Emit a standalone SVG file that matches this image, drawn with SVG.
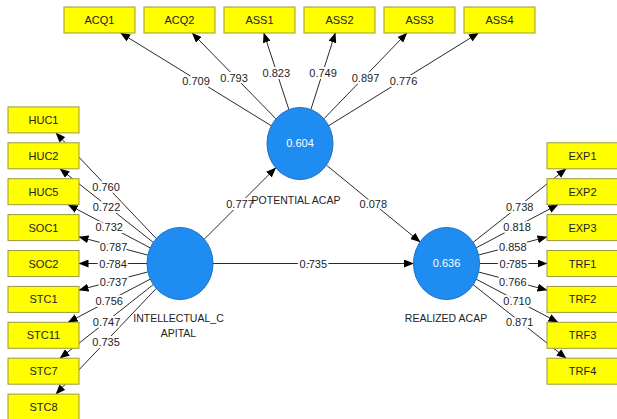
<svg xmlns="http://www.w3.org/2000/svg" width="617" height="419" viewBox="0 0 617 419">
<defs>
<marker id="ah" markerWidth="10" markerHeight="8" refX="9.5" refY="4" orient="auto" markerUnits="userSpaceOnUse"><path d="M0,0 L10,4 L0,8 z" fill="#000"/></marker>
<style>
.ln{stroke:#2a2a2a;stroke-width:1;fill:none;marker-end:url(#ah)}
.lb{font-family:"Liberation Sans",Arial,sans-serif;font-size:11px;fill:#222;text-anchor:middle;dominant-baseline:central;paint-order:stroke;stroke:#fff;stroke-width:4px;stroke-linejoin:round}
.bx rect{fill:#ffff00;stroke:#9a9a40;stroke-width:1}
.bx text{font-family:"Liberation Sans",Arial,sans-serif;font-size:11px;fill:#222;text-anchor:middle;dominant-baseline:central}
.lv ellipse{fill:#1e8cf0;stroke:#1a6fc4;stroke-width:1}
.lv text.v{font-family:"Liberation Sans",Arial,sans-serif;font-size:11px;fill:#fff;text-anchor:middle;dominant-baseline:central}
.lv text.n{font-family:"Liberation Sans",Arial,sans-serif;font-size:10.5px;fill:#222;text-anchor:middle;dominant-baseline:central}
</style>
</defs>
<rect width="617" height="419" fill="#fff"/>
<g id="connectors">
<!-- IC to left indicators -->
<line class="ln" x1="156.2" y1="238.5" x2="55.9" y2="132.9"/>
<line class="ln" x1="153.3" y1="242.4" x2="60.0" y2="168.8"/>
<line class="ln" x1="150.3" y1="247.9" x2="68.2" y2="204.7"/>
<line class="ln" x1="147.9" y1="255.1" x2="79" y2="236.9"/>
<line class="ln" x1="147" y1="263.5" x2="79" y2="263.5"/>
<line class="ln" x1="147.9" y1="271.9" x2="79" y2="290.1"/>
<line class="ln" x1="150.3" y1="279.1" x2="68.2" y2="322.3"/>
<line class="ln" x1="153.3" y1="284.6" x2="60.0" y2="358.2"/>
<line class="ln" x1="156.2" y1="288.5" x2="55.9" y2="394.1"/>
<!-- RA to right indicators -->
<line class="ln" x1="473.2" y1="242.3" x2="566.1" y2="168.8"/>
<line class="ln" x1="476.2" y1="247.8" x2="557.9" y2="204.7"/>
<line class="ln" x1="478.6" y1="255.0" x2="547" y2="236.9"/>
<line class="ln" x1="479.5" y1="263.5" x2="547" y2="263.5"/>
<line class="ln" x1="478.6" y1="272.0" x2="547" y2="290.1"/>
<line class="ln" x1="476.2" y1="279.2" x2="557.9" y2="322.3"/>
<line class="ln" x1="473.2" y1="284.7" x2="566.1" y2="358.2"/>
<!-- PA to top indicators -->
<line class="ln" x1="271.3" y1="125.8" x2="120.6" y2="33"/>
<line class="ln" x1="275.9" y1="118.8" x2="192.2" y2="33"/>
<line class="ln" x1="288.9" y1="109.6" x2="263.8" y2="33"/>
<line class="ln" x1="310.9" y1="109.5" x2="335.3" y2="33"/>
<line class="ln" x1="324.0" y1="118.7" x2="406.9" y2="33"/>
<line class="ln" x1="328.7" y1="125.7" x2="478.5" y2="33"/>
<!-- structural -->
<line class="ln" x1="204.3" y1="239.2" x2="275.7" y2="167.8"/>
<line class="ln" x1="326.4" y1="165.1" x2="420.1" y2="241.9"/>
<line class="ln" x1="213" y1="263.5" x2="413.5" y2="263.5"/>
<!-- labels -->
<text class="lb" x="106.1" y="186.5">0.760</text>
<text class="lb" x="106.6" y="206.5">0.722</text>
<text class="lb" x="109.2" y="227.2">0.732</text>
<text class="lb" x="113.5" y="246.5">0.787</text>
<text class="lb" x="113" y="264">0.784</text>
<text class="lb" x="113.5" y="281.5">0.737</text>
<text class="lb" x="109.2" y="301">0.756</text>
<text class="lb" x="106.6" y="321.5">0.747</text>
<text class="lb" x="106.1" y="341.5">0.735</text>
<text class="lb" x="519.7" y="206.5">0.738</text>
<text class="lb" x="517.1" y="227">0.818</text>
<text class="lb" x="512.8" y="246.5">0.858</text>
<text class="lb" x="513.3" y="264">0.785</text>
<text class="lb" x="512.8" y="281.5">0.766</text>
<text class="lb" x="517.1" y="301">0.710</text>
<text class="lb" x="519.7" y="321.5">0.871</text>
<text class="lb" x="196" y="81">0.709</text>
<text class="lb" x="234.1" y="77.5">0.793</text>
<text class="lb" x="276.3" y="73">0.823</text>
<text class="lb" x="323.1" y="73">0.749</text>
<text class="lb" x="365.5" y="77.5">0.897</text>
<text class="lb" x="403.6" y="81">0.776</text>
<text class="lb" x="240" y="204">0.777</text>
<text class="lb" x="373.3" y="204">0.078</text>
<text class="lb" x="313.3" y="264">0.735</text>
</g>
<g id="ACQ1" class="bx"><rect x="64" y="7" width="71" height="26"/><text x="99.5" y="20">ACQ1</text></g>
<g id="ACQ2" class="bx"><rect x="144" y="7" width="71" height="26"/><text x="179.5" y="20">ACQ2</text></g>
<g id="ASS1" class="bx"><rect x="224" y="7" width="71" height="26"/><text x="259.5" y="20">ASS1</text></g>
<g id="ASS2" class="bx"><rect x="304" y="7" width="71" height="26"/><text x="339.5" y="20">ASS2</text></g>
<g id="ASS3" class="bx"><rect x="384" y="7" width="71" height="26"/><text x="419.5" y="20">ASS3</text></g>
<g id="ASS4" class="bx"><rect x="464" y="7" width="71" height="26"/><text x="499.5" y="20">ASS4</text></g>
<g id="HUC1" class="bx"><rect x="8" y="106.9" width="71" height="26"/><text x="43.5" y="119.9">HUC1</text></g>
<g id="HUC2" class="bx"><rect x="8" y="142.8" width="71" height="26"/><text x="43.5" y="155.8">HUC2</text></g>
<g id="HUC5" class="bx"><rect x="8" y="178.7" width="71" height="26"/><text x="43.5" y="191.7">HUC5</text></g>
<g id="SOC1" class="bx"><rect x="8" y="214.6" width="71" height="26"/><text x="43.5" y="227.6">SOC1</text></g>
<g id="SOC2" class="bx"><rect x="8" y="250.5" width="71" height="26"/><text x="43.5" y="263.5">SOC2</text></g>
<g id="STC1" class="bx"><rect x="8" y="286.4" width="71" height="26"/><text x="43.5" y="299.4">STC1</text></g>
<g id="STC11" class="bx"><rect x="8" y="322.3" width="71" height="26"/><text x="43.5" y="335.3">STC11</text></g>
<g id="STC7" class="bx"><rect x="8" y="358.2" width="71" height="26"/><text x="43.5" y="371.2">STC7</text></g>
<g id="STC8" class="bx"><rect x="8" y="394.1" width="71" height="26"/><text x="43.5" y="407.1">STC8</text></g>
<g id="EXP1" class="bx"><rect x="547" y="142.8" width="71" height="26"/><text x="582.5" y="155.8">EXP1</text></g>
<g id="EXP2" class="bx"><rect x="547" y="178.7" width="71" height="26"/><text x="582.5" y="191.7">EXP2</text></g>
<g id="EXP3" class="bx"><rect x="547" y="214.6" width="71" height="26"/><text x="582.5" y="227.6">EXP3</text></g>
<g id="TRF1" class="bx"><rect x="547" y="250.5" width="71" height="26"/><text x="582.5" y="263.5">TRF1</text></g>
<g id="TRF2" class="bx"><rect x="547" y="286.4" width="71" height="26"/><text x="582.5" y="299.4">TRF2</text></g>
<g id="TRF3" class="bx"><rect x="547" y="322.3" width="71" height="26"/><text x="582.5" y="335.3">TRF3</text></g>
<g id="TRF4" class="bx"><rect x="547" y="358.2" width="71" height="26"/><text x="582.5" y="371.2">TRF4</text></g>
<g id="INTELLECTUAL_CAPITAL" class="lv"><ellipse cx="180" cy="263.5" rx="33" ry="36"/><text class="n" x="178.5" y="318">INTELLECTUAL_C</text><text class="n" x="178.5" y="332.5">APITAL</text></g>
<g id="POTENTIAL_ACAP" class="lv"><ellipse cx="300" cy="143.5" rx="33" ry="36"/><text class="v" x="300" y="142.5">0.604</text><text class="n" x="296" y="200">POTENTIAL ACAP</text></g>
<g id="REALIZED_ACAP" class="lv"><ellipse cx="446.5" cy="263.5" rx="33" ry="36"/><text class="v" x="446.5" y="262.5">0.636</text><text class="n" x="446" y="318">REALIZED ACAP</text></g>
</svg>
